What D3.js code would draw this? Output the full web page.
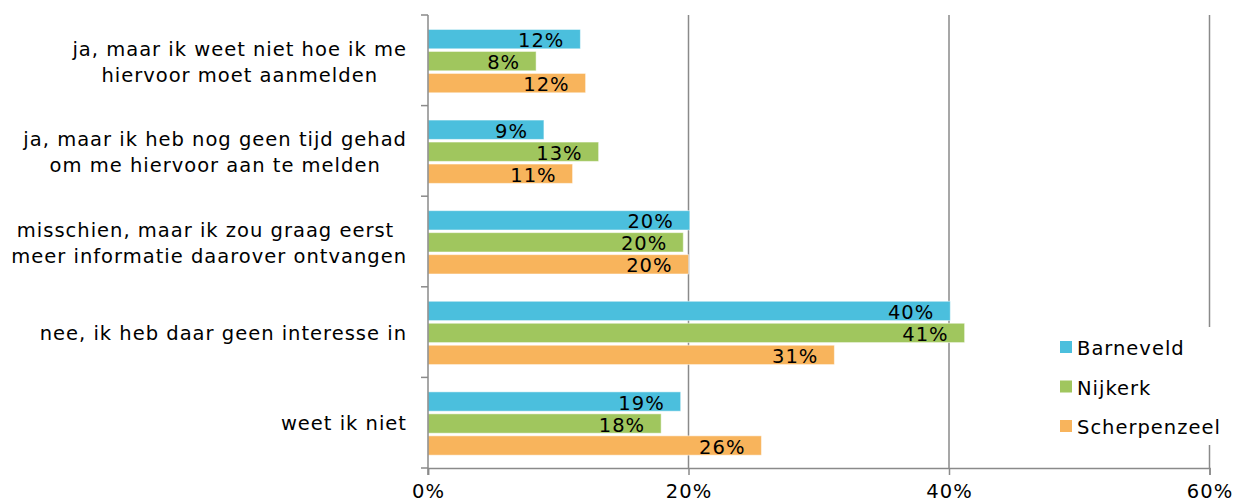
<!DOCTYPE html>
<html><head><meta charset="utf-8">
<script src="https://cdn.jsdelivr.net/npm/d3@7"></script>
<style>
html,body{margin:0;padding:0;background:#fff;}
svg{display:block;font-family:"DejaVu Sans",Verdana,sans-serif;}
</style></head>
<body>
<svg id="chart" width="1237" height="504"></svg>
<script>
const categories = [
  ["ja, maar ik weet niet hoe ik me", "hiervoor moet aanmelden"],
  ["ja, maar ik heb nog geen tijd gehad", "om me hiervoor aan te melden"],
  ["misschien, maar ik zou graag eerst ", "meer informatie daarover ontvangen"],
  ["nee, ik heb daar geen interesse in"],
  ["weet ik niet"]
];
const seriesNames = ["Barneveld", "Nijkerk", "Scherpenzeel"];
const barneveld = [11.7, 8.9, 20.1, 40.1, 19.4];
const nijkerk = [8.3, 13.1, 19.6, 41.2, 17.9];
const scherpenzeel = [12.1, 11.1, 20.0, 31.2, 25.6];
const labelsBarneveld = ["12%", "9%", "20%", "40%", "19%"];
const labelsNijkerk = ["8%", "13%", "20%", "41%", "18%"];
const labelsScherpenzeel = ["12%", "11%", "20%", "31%", "26%"];
const xTicks = [0, 20, 40, 60];
const colors = ["#4bbfdd", "#a0c65e", "#f8b45c"];

const seriesValues = [barneveld, nijkerk, scherpenzeel];
const seriesLabels = [labelsBarneveld, labelsNijkerk, labelsScherpenzeel];

(function () {
const svg = d3.select("#chart");
const mLeft = 428, mRight = 1209.5, mTop = 15, mBottom = 468;
const fs = 19.5;
const ls = "1px";
const axisColor = "#8a8a8a";

const x = d3.scaleLinear().domain([0, 60]).range([mLeft, mRight]);
const catIdx = categories.map((d, i) => i);
const y = d3.scaleBand().domain(catIdx).range([mTop, mBottom]).paddingInner(0).paddingOuter(0);
const y1 = d3.scaleBand().domain(seriesNames).range([0, y.bandwidth()]).paddingInner(0.12).paddingOuter(0.62).align(0.53);
const color = d3.scaleOrdinal().domain(seriesNames).range(colors);

// gridlines
svg.append("g").selectAll("line").data(xTicks.filter(t => t > 0)).join("line")
  .attr("x1", d => x(d)).attr("x2", d => x(d))
  .attr("y1", mTop).attr("y2", mBottom)
  .attr("stroke", axisColor).attr("stroke-width", 1.5);

// bars
const rows = [];
catIdx.forEach(ci => seriesNames.forEach((s, si) => rows.push({ci, s, si, v: seriesValues[si][ci], lab: seriesLabels[si][ci]})));
const g = svg.append("g");
g.selectAll("rect").data(rows).join("rect")
  .attr("x", x(0))
  .attr("y", d => y(d.ci) + y1(d.s))
  .attr("width", d => x(d.v) - x(0))
  .attr("height", y1.bandwidth())
  .attr("fill", d => color(d.s))
  .attr("stroke", "#ffffff").attr("stroke-opacity", 0.5).attr("stroke-width", 1);

g.selectAll("text").data(rows).join("text")
  .attr("x", d => x(d.v) - 16)
  .attr("y", d => y(d.ci) + y1(d.s) + y1.bandwidth() / 2 + 1.5)
  .attr("text-anchor", "end")
  .attr("dominant-baseline", "central")
  .attr("font-size", fs)
  .attr("letter-spacing", ls)
  .attr("fill", "#000")
  .text(d => d.lab);

// axes
const xAxis = d3.axisBottom(x).tickValues(xTicks).tickFormat(d => d + "%").tickSize(7).tickPadding(9);
const gx = svg.append("g").attr("transform", `translate(0,${mBottom})`).call(xAxis);
gx.select(".domain").attr("stroke", axisColor).attr("stroke-width", 1.5);
gx.selectAll(".tick line").attr("stroke", axisColor).attr("stroke-width", 1.5);
gx.selectAll(".tick text").attr("font-size", fs).attr("letter-spacing", ls)
  .attr("font-family", "DejaVu Sans").attr("fill", "#000");

const yBounds = d3.range(categories.length + 1).map(i => mTop + i * y.step());
svg.append("line").attr("x1", mLeft).attr("x2", mLeft).attr("y1", mTop).attr("y2", mBottom + 7)
  .attr("stroke", axisColor).attr("stroke-width", 1.5);
svg.append("g").selectAll("line").data(yBounds).join("line")
  .attr("x1", mLeft - 7).attr("x2", mLeft).attr("y1", d => d).attr("y2", d => d)
  .attr("stroke", axisColor).attr("stroke-width", 1.5);

// category labels (multi-line, centered block, right edge at 407)
const lineH = 26;
const catG = svg.append("g").attr("font-size", fs).attr("letter-spacing", ls).attr("fill", "#000");
categories.forEach((lines, i) => {
  const cy = y(i) + y.bandwidth() / 2 + (lines.length > 1 ? 2 : 1);
  const grp = catG.append("g");
  lines.forEach((ln, j) => {
    grp.append("text").attr("text-anchor", "middle").attr("x", 0)
      .attr("y", cy + (j - (lines.length - 1) / 2) * lineH)
      .attr("dominant-baseline", "central")
      .style("white-space", "pre").attr("xml:space", "preserve")
      .text(ln);
  });
  const bb = grp.node().getBBox();
  grp.attr("transform", `translate(${407 - (bb.x + bb.width)},0)`);
});

// legend
const lg = svg.append("g");
lg.append("rect").attr("x", 1050).attr("y", 327).attr("width", 180).attr("height", 118).attr("fill", "#fff");
const li = lg.selectAll("g").data(seriesNames).join("g")
  .attr("transform", (d, i) => `translate(1060,${347 + i * 39.5})`);
li.append("rect").attr("x", 0).attr("y", -6).attr("width", 12).attr("height", 12).attr("fill", d => color(d));
li.append("text").attr("x", 17).attr("y", 1.5).attr("dominant-baseline", "central")
  .attr("font-size", fs).attr("letter-spacing", ls).attr("fill", "#000").text(d => d);
})();
</script>
</body></html>
